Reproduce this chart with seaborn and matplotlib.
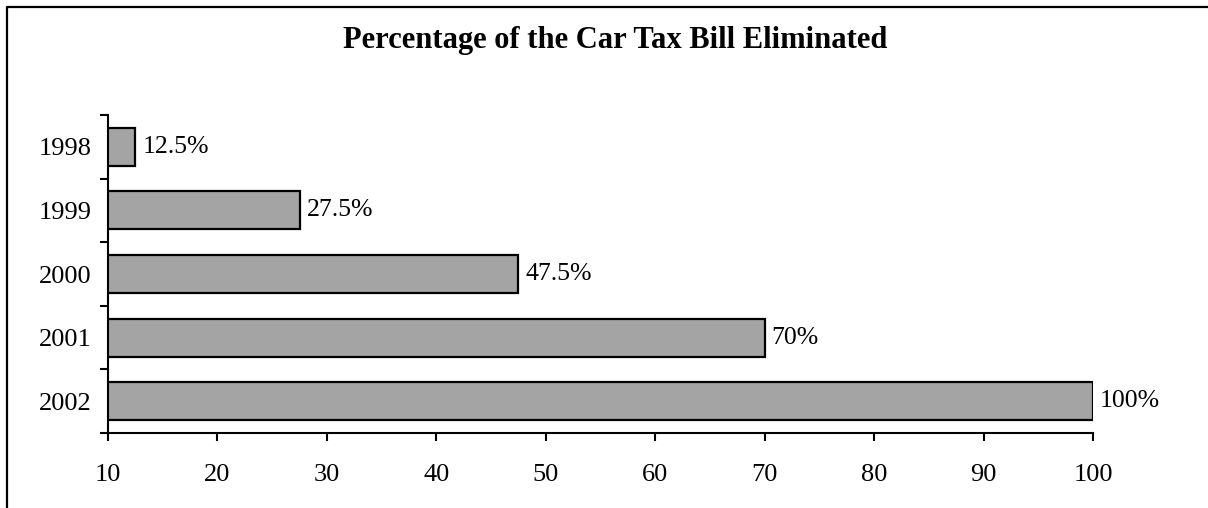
import pandas as pd
import seaborn as sns
import matplotlib.pyplot as plt
from matplotlib.lines import Line2D

# Data
years = ["1998", "1999", "2000", "2001", "2002"]
percent = [12.5, 27.5, 47.5, 70, 100]
labels = ["12.5%", "27.5%", "47.5%", "70%", "100%"]
xticks = [10, 20, 30, 40, 50, 60, 70, 80, 90, 100]

df = pd.DataFrame({"year": years, "percent": percent})

sns.set_style("white")
plt.rcParams['font.family'] = ['Liberation Serif', 'DejaVu Serif']
plt.rcParams['text.color'] = 'black'
plt.rcParams['xtick.color'] = 'black'
plt.rcParams['ytick.color'] = 'black'

fig = plt.figure(figsize=(12.08, 5.08), dpi=100)
ax = fig.add_axes([0.0894, 0.1476, 0.8154, 0.6260])

sns.barplot(data=df, x="percent", y="year", orient="h", color="#a4a4a4",
            edgecolor="black", linewidth=1.6, width=0.6, saturation=1, ax=ax)

ax.bar_label(ax.containers[0], labels=labels, padding=5, fontsize=18.5, color="black")

ax.set_xlim(10, 100)
ax.set_ylim(4.5, -0.5)
ax.set_xticks(xticks)
ax.set_xlabel("")
ax.set_ylabel("")

# y ticks sit between the categories
ax.set_yticks([i - 0.5 for i in range(len(years) + 1)], minor=True)
ax.tick_params(axis="y", which="major", left=True, length=0, pad=12, labelsize=19)
ax.tick_params(axis="y", which="minor", left=True, length=6, width=1.5, color="black", direction="out")
ax.tick_params(axis="x", bottom=True, length=6, width=1.5, color="black", direction="out", pad=16, labelsize=19)

for s in ["top", "right"]:
    ax.spines[s].set_visible(False)
for s in ["left", "bottom"]:
    ax.spines[s].set_color("black")
    ax.spines[s].set_linewidth(1.5)

fig.text(0.509, 0.921, "Percentage of the Car Tax Bill Eliminated",
         ha="center", va="center", fontsize=22, fontweight="bold")

# outer frame (left and top edges only)
fig.add_artist(Line2D([0.006, 0.006], [0, 0.986], color="black", lw=1.6, transform=fig.transFigure))
fig.add_artist(Line2D([0.006, 1], [0.986, 0.986], color="black", lw=1.6, transform=fig.transFigure))

fig.savefig("out.png", dpi=100)
